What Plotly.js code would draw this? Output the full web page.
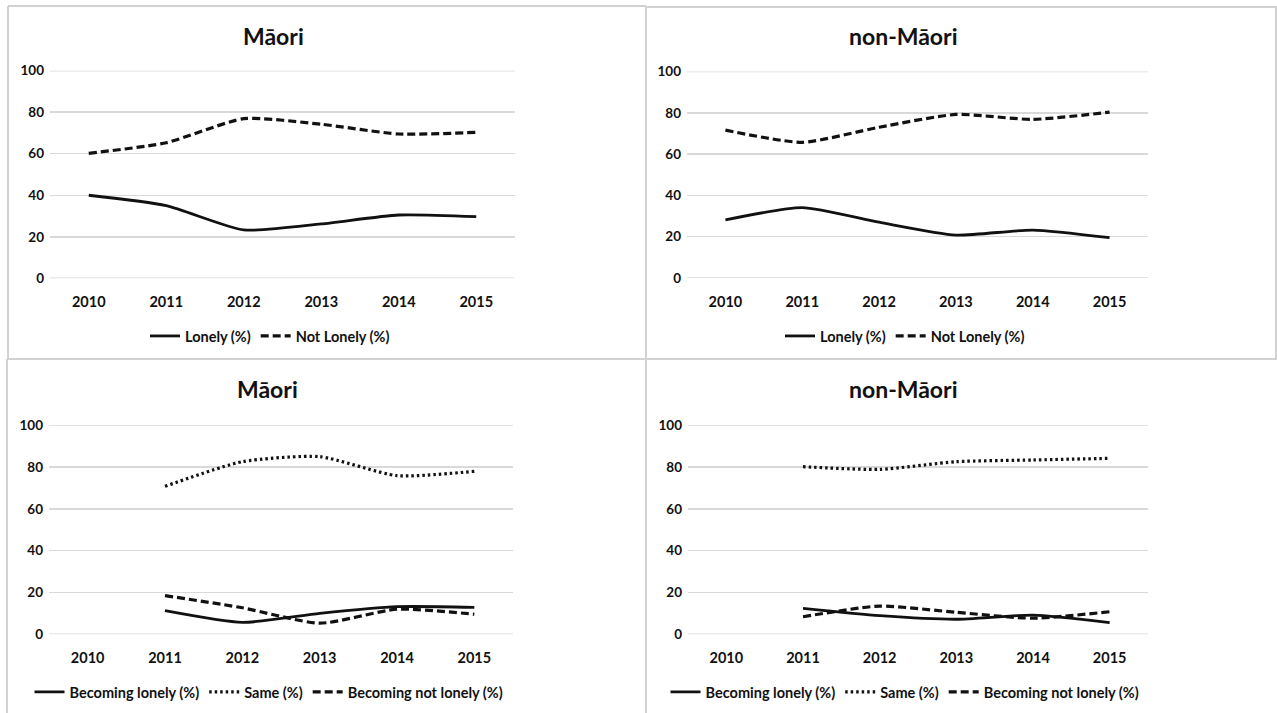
<!DOCTYPE html>
<html>
<head>
<meta charset="utf-8">
<script src="https://cdn.plot.ly/plotly-3.0.1.min.js"></script>
<style>html,body{margin:0;padding:0;background:#fff}#chart{width:1277px;height:713px}</style>
</head>
<body>
<div id="chart"></div>
<script>
// ---- data ----
const years = ['2010', '2011', '2012', '2013', '2014', '2015'];
const yTicks = [0, 20, 40, 60, 80, 100];

const maoriLonely = [40, 35, 23.3, 26.2, 30.5, 29.7];
const maoriNotLonely = [60.2, 65.3, 76.9, 74.2, 69.5, 70.3];

const nonMaoriLonely = [28.1, 34.1, 27, 20.8, 23.2, 19.5];
const nonMaoriNotLonely = [71.6, 65.7, 73, 79.2, 76.8, 80.3];

const maoriBecomingLonely = [null, 11.3, 5.7, 10, 13.2, 12.9];
const maoriSame = [null, 70.8, 82.6, 85, 75.9, 78];
const maoriBecomingNotLonely = [null, 18.5, 12.7, 5.3, 12, 9.6];

const nonMaoriBecomingLonely = [null, 12.4, 8.9, 7.2, 9.2, 5.6];
const nonMaoriSame = [null, 80.2, 78.9, 82.6, 83.4, 84.2];
const nonMaoriBecomingNotLonely = [null, 8.4, 13.5, 10.5, 7.7, 10.8];

const titles = ['Māori', 'non-Māori', 'Māori', 'non-Māori'];

// ---- layout helpers ----
const W = 1277, H = 713;
const FONT = 'Lato, "Open Sans", sans-serif';
const TXT = '#111111';
const px = v => v / W;
const py = v => 1 - v / H;

const panels = [
  {x0: 50, x1: 515, yTop: 70.7, yBot: 278.3, tx: 273, ty: 36, lx: 270, ly: 336},
  {x0: 687, x1: 1148, yTop: 71.5, yBot: 278, tx: 903, ty: 36, lx: 905, ly: 336},
  {x0: 49, x1: 513, yTop: 425.3, yBot: 634.3, tx: 267, ty: 389, lx: 269, ly: 692},
  {x0: 688, x1: 1148, yTop: 425.3, yBot: 634.3, tx: 903, ty: 389, lx: 905, ly: 692}
];

const black = '#111111';
const solid = {color: black, width: 2.8, shape: 'spline', smoothing: 0.6};
const dashed = {color: black, width: 3.2, dash: '8px,4px', shape: 'spline', smoothing: 0.6};
const dotted = {color: black, width: 3.2, dash: '2.5px,3px', shape: 'spline', smoothing: 0.6};

function tr(y, name, line, idx) {
  const s = idx === 0 ? '' : String(idx + 1);
  return {
    type: 'scatter', mode: 'lines', x: years, y: y, name: name,
    line: line, xaxis: 'x' + s, yaxis: 'y' + s,
    legend: idx === 0 ? 'legend' : 'legend' + (idx + 1),
    connectgaps: false, hoverinfo: 'skip'
  };
}

const data = [
  tr(maoriLonely, 'Lonely (%)', solid, 0),
  tr(maoriNotLonely, 'Not Lonely (%)', dashed, 0),
  tr(nonMaoriLonely, 'Lonely (%)', solid, 1),
  tr(nonMaoriNotLonely, 'Not Lonely (%)', dashed, 1),
  tr(maoriBecomingLonely, 'Becoming lonely (%)', solid, 2),
  tr(maoriSame, 'Same (%)', dotted, 2),
  tr(maoriBecomingNotLonely, 'Becoming not lonely (%)', dashed, 2),
  tr(nonMaoriBecomingLonely, 'Becoming lonely (%)', solid, 3),
  tr(nonMaoriSame, 'Same (%)', dotted, 3),
  tr(nonMaoriBecomingNotLonely, 'Becoming not lonely (%)', dashed, 3)
];

const layout = {
  width: W, height: H,
  margin: {l: 0, r: 0, t: 0, b: 0, pad: 0},
  paper_bgcolor: '#ffffff', plot_bgcolor: '#ffffff',
  font: {family: FONT, color: TXT},
  showlegend: true,
  annotations: [],
  shapes: []
};

panels.forEach((p, i) => {
  const s = i === 0 ? '' : String(i + 1);
  layout['xaxis' + s] = {
    domain: [px(p.x0), px(p.x1)], anchor: 'y' + s,
    type: 'category', categoryorder: 'array', categoryarray: years,
    range: [-0.5, 5.5], showgrid: false, showline: false, zeroline: false,
    ticks: '', ticklabelstandoff: 13,
    tickfont: {family: FONT, size: 14.5, color: TXT, weight: 'bold'},
    fixedrange: true
  };
  layout['yaxis' + s] = {
    domain: [py(p.yBot), py(p.yTop)], anchor: 'x' + s,
    range: [0, 100], tickmode: 'array', tickvals: yTicks, ticktext: yTicks.map(String),
    showgrid: true, gridcolor: '#d9d9d9', gridwidth: 1.5,
    zeroline: false, showline: false, ticks: '', ticklabelstandoff: 5,
    tickfont: {family: FONT, size: 13.5, color: TXT, weight: 'bold'},
    fixedrange: true
  };
  layout[i === 0 ? 'legend' : 'legend' + (i + 1)] = {
    orientation: 'h', x: px(p.lx), xanchor: 'center', y: py(p.ly), yanchor: 'middle',
    bgcolor: 'rgba(0,0,0,0)', borderwidth: 0,
    font: {family: FONT, size: 14.5, color: TXT, weight: 'bold'},
    itemclick: false, itemdoubleclick: false, traceorder: 'normal'
  };
  layout.annotations.push({
    text: titles[i], xref: 'paper', yref: 'paper', x: px(p.tx), y: py(p.ty),
    xanchor: 'center', yanchor: 'middle', showarrow: false,
    font: {family: FONT, size: 23, color: TXT, weight: 'bold'}
  });
  // gridlines at the range edges (0 and 100)
  [0, 100].forEach(v => {
    layout.shapes.push({type: 'line', xref: 'x' + s + ' domain', yref: 'y' + s,
      x0: 0, x1: 1, y0: v, y1: v, line: {color: '#d9d9d9', width: 1.5}, layer: 'below'});
  });
});

// panel borders
const border = {color: '#d2d2d2', width: 2};
function seg(x0, y0, x1, y1) {
  layout.shapes.push({type: 'line', xref: 'paper', yref: 'paper',
    x0: px(x0), y0: py(y0), x1: px(x1), y1: py(y1), line: border, layer: 'below'});
}
seg(8, 6, 646, 6);
seg(646, 7, 1277, 7);
seg(8, 6, 8, 359);
seg(7, 359, 7, 713);
seg(646, 6, 646, 713);
seg(1276, 7, 1276, 359);
seg(7, 359, 1277, 359);

Plotly.newPlot('chart', data, layout, {displayModeBar: false, staticPlot: true});
</script>
</body>
</html>
